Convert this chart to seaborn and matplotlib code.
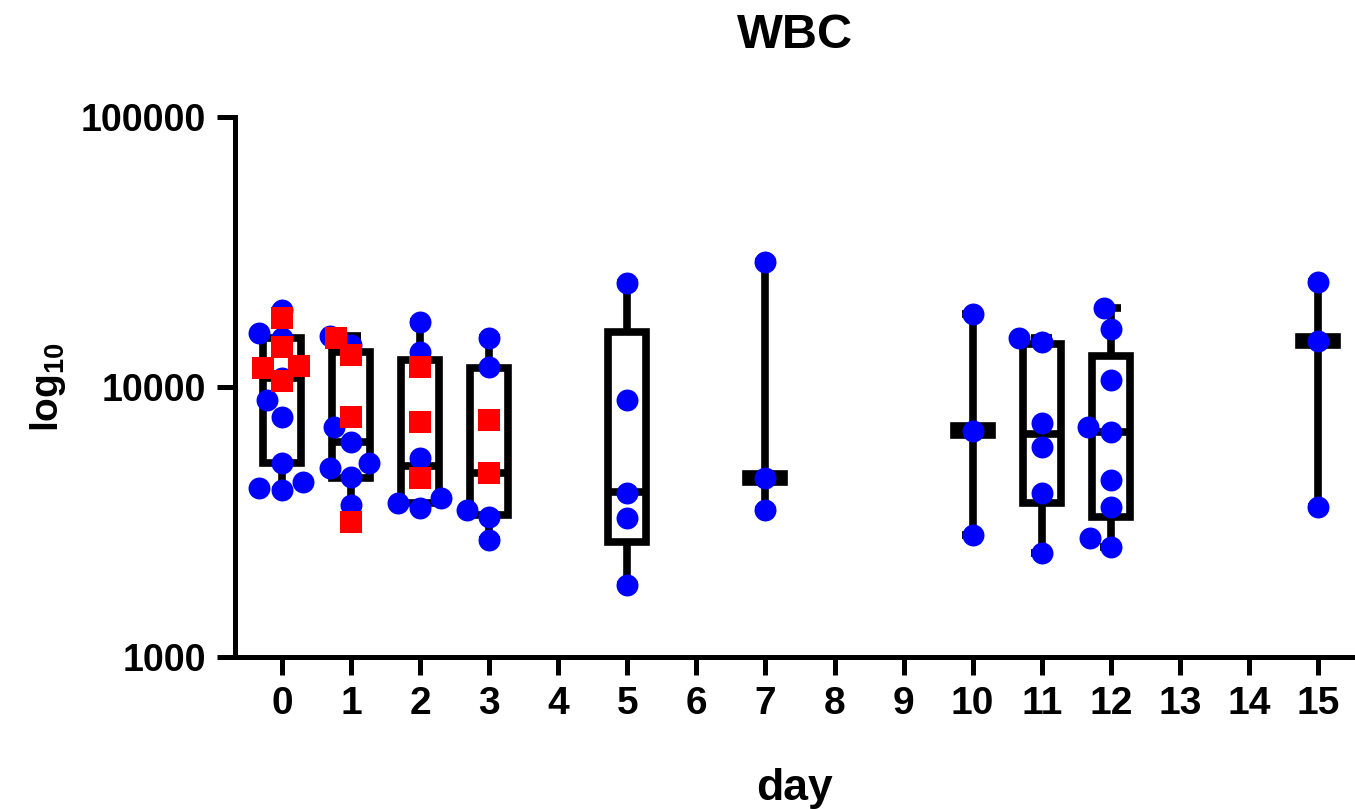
import numpy as np
import pandas as pd
import matplotlib
matplotlib.use("Agg")
import matplotlib.pyplot as plt
from matplotlib.ticker import FixedLocator, FuncFormatter, NullLocator
import seaborn as sns

# ---------------- data ----------------
# blue circles
blue_day = [0, 0, 0, 0, 0, 0, 0, 0, 0, 0,
            1, 1, 1, 1, 1, 1, 1, 1,
            2, 2, 2, 2, 2, 2,
            3, 3, 3, 3, 3,
            5, 5, 5, 5, 5,
            7, 7, 7,
            10, 10, 10,
            11, 11, 11, 11, 11, 11,
            12, 12, 12, 12, 12, 12, 12, 12, 12,
            15, 15, 15]
blue_wbc = [19300, 15800, 15200, 10800, 8950, 7740, 5230, 4450, 4230, 4150,
            15450, 14300, 7110, 6260, 5230, 5000, 4640, 3660,
            17400, 13480, 5460, 3880, 3720, 3560,
            15190, 11860, 3500, 3300, 2710,
            24300, 8950, 4050, 3270, 1850,
            29000, 4600, 3500,
            18640, 6870, 2830,
            15190, 14700, 7360, 6000, 4050, 2430,
            19600, 16400, 10600, 7110, 6810, 4520, 3590, 2760, 2560,
            24500, 14800, 3590]

# red squares
red_day = [0, 0, 0, 0, 0,
           1, 1, 1, 1,
           2, 2, 2,
           3, 3]
red_wbc = [18000, 14100, 11960, 11760, 10525,
           15190, 13140, 7740, 3160,
           11860, 7420, 4600,
           7550, 4800]

# box-and-whisker summary per day (min to max whiskers)
box_day = [0, 1, 2, 3, 5, 7, 10, 11, 12, 15]
box_min = [4150, 3160, 3560, 2710, 1850, 3500, 2830, 2430, 2560, 3590]
box_q1 = [5230, 4600, 3720, 3357, 2670, 4450, 6650, 3720, 3300, 14300]
box_med = [10800, 6260, 5100, 4800, 4080, 4600, 6900, 6700, 6810, 14800]
box_q3 = [15190, 13480, 12590, 11760, 16000, 4760, 7150, 14430, 13000, 15320]
box_max = [19300, 15450, 17400, 15190, 24300, 29000, 18640, 15190, 19600, 24500]

day_ticks = list(range(16))
y_ticks = [1000, 10000, 100000]

title_text = "WBC"
x_label = "day"
y_label = r"$\mathbf{log_{10}}$"

# ---------------- style ----------------
sns.set_theme(style="ticks")
plt.rcParams["font.family"] = ["Liberation Sans", "DejaVu Sans"]
plt.rcParams["font.weight"] = "bold"
plt.rcParams["text.color"] = "black"
plt.rcParams["axes.labelcolor"] = "black"
plt.rcParams["xtick.color"] = "black"
plt.rcParams["ytick.color"] = "black"
plt.rcParams["mathtext.fontset"] = "custom"
plt.rcParams["mathtext.rm"] = "Liberation Sans:bold"
plt.rcParams["mathtext.it"] = "Liberation Sans:bold"
plt.rcParams["mathtext.bf"] = "Liberation Sans:bold"

fig = plt.figure(figsize=(13.55, 8.09), dpi=100)
ax = fig.add_axes([0.1734, 0.1879, 0.8266, 0.6675])
ax.set_yscale("log")

# boxes
lw = 5.5
stats = [dict(whislo=lo, q1=a, med=m, q3=b, whishi=hi)
         for lo, a, m, b, hi in zip(box_min, box_q1, box_med, box_q3, box_max)]
ax.bxp(stats, positions=box_day, widths=0.55, capwidths=0.3,
       showfliers=False, patch_artist=True, manage_ticks=False,
       boxprops=dict(facecolor="white", edgecolor="black", linewidth=lw,
                     joinstyle="miter"),
       whiskerprops=dict(color="black", linewidth=lw, solid_capstyle="butt"),
       capprops=dict(color="black", linewidth=lw, solid_capstyle="butt"),
       medianprops=dict(color="black", linewidth=lw, solid_capstyle="butt"),
       zorder=2)

# points
df_blue = pd.DataFrame({"day": blue_day, "wbc": blue_wbc})
df_red = pd.DataFrame({"day": red_day, "wbc": red_wbc})
sns.swarmplot(data=df_blue, x="day", y="wbc", native_scale=True, orient="x",
              color="#0000FF", size=15.8, marker="o", linewidth=0,
              ax=ax, zorder=3, warn_thresh=1)
sns.swarmplot(data=df_red, x="day", y="wbc", native_scale=True, orient="x",
              color="#FF0000", size=15.8, marker="s", linewidth=0,
              ax=ax, zorder=4, warn_thresh=1)

# axes
ax.set_xlim(-0.68, 15.535)
ax.set_ylim(1000, 100000)
ax.xaxis.set_major_locator(FixedLocator(day_ticks))
ax.set_xticklabels([str(d) for d in day_ticks])
ax.yaxis.set_major_locator(FixedLocator(y_ticks))
ax.yaxis.set_major_formatter(FuncFormatter(lambda v, p: f"{int(round(v))}"))
ax.yaxis.set_minor_locator(NullLocator())
ax.xaxis.set_minor_locator(NullLocator())

for side in ("top", "right"):
    ax.spines[side].set_visible(False)
for side in ("left", "bottom"):
    ax.spines[side].set_linewidth(3.6)
    ax.spines[side].set_color("black")

ax.tick_params(axis="both", which="major", length=13, width=3.6,
               color="black", labelcolor="black", pad=8)
ax.tick_params(axis="y", labelsize=27)
ax.tick_params(axis="x", labelsize=28)
for lab in ax.get_xticklabels() + ax.get_yticklabels():
    lab.set_fontweight("bold")

ax.set_xlabel(x_label, fontsize=32, fontweight="bold", labelpad=33,
              color="black")
ax.set_ylabel(y_label, fontsize=28, fontweight="bold", labelpad=9,
              color="black")
ax.set_title(title_text, fontsize=35, fontweight="bold", pad=50,
             color="black")

fig.savefig("out.png", dpi=100, facecolor="white")
